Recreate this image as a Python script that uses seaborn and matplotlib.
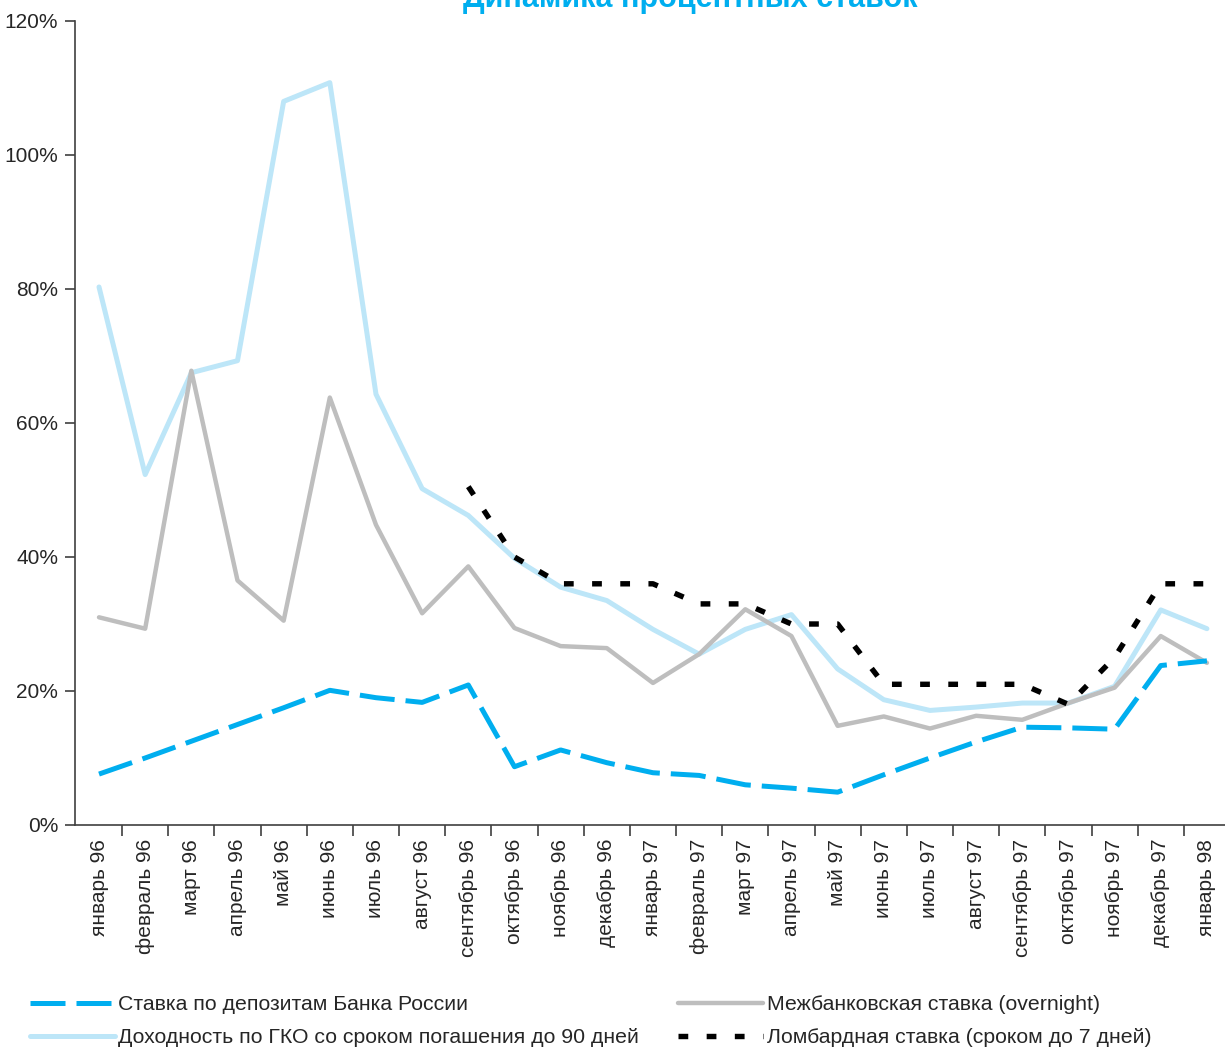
import numpy as np
import pandas as pd
import matplotlib
matplotlib.use('Agg')
import matplotlib.pyplot as plt
from matplotlib.lines import Line2D
import seaborn as sns

sns.set_style('white')
plt.rcParams['font.family'] = ['Liberation Sans', 'DejaVu Sans']

months = ['январь 96', 'февраль 96', 'март 96', 'апрель 96', 'май 96', 'июнь 96',
          'июль 96', 'август 96', 'сентябрь 96', 'октябрь 96', 'ноябрь 96', 'декабрь 96',
          'январь 97', 'февраль 97', 'март 97', 'апрель 97', 'май 97', 'июнь 97',
          'июль 97', 'август 97', 'сентябрь 97', 'октябрь 97', 'ноябрь 97', 'декабрь 97',
          'январь 98']

# ставки, %
deposit = [7.6, 10.0, 12.5, 15.0, 17.5, 20.1, 19.0, 18.3, 20.9, 8.7, 11.2, 9.3,
           7.8, 7.4, 6.0, 5.5, 4.9, 7.5, 10.0, 12.4, 14.6, 14.5, 14.3, 23.8, 24.5]
interbank = [31.0, 29.3, 67.8, 36.5, 30.5, 63.8, 44.8, 31.6, 38.6, 29.4, 26.7, 26.4,
             21.2, 25.5, 32.2, 28.2, 14.8, 16.2, 14.4, 16.3, 15.7, 18.2, 20.5, 28.2, 24.2]
gko = [80.3, 52.3, 67.5, 69.3, 108.0, 110.8, 64.3, 50.2, 46.2, 39.8, 35.5, 33.5,
       29.2, 25.5, 29.2, 31.4, 23.3, 18.7, 17.1, 17.6, 18.2, 18.2, 20.7, 32.1, 29.3]
lombard = [np.nan] * 8 + [50.5, 40.0, 36.0, 36.0, 36.0, 33.0, 33.0, 30.0, 30.0,
                          21.0, 21.0, 21.0, 21.0, 18.0, 25.0, 36.0, 36.0]

labels = ['Ставка по депозитам Банка России',
          'Доходность по ГКО со сроком погашения до 90 дней',
          'Межбанковская ставка (overnight)',
          'Ломбардная ставка (сроком до 7 дней)']

df = pd.DataFrame({'x': np.arange(len(months)), 'deposit': deposit,
                   'interbank': interbank, 'gko': gko, 'lombard': lombard})

fig = plt.figure(figsize=(12.25, 10.5), dpi=100)
ax = fig.add_axes([75 / 1225, 1 - 825 / 1050, 1155 / 1225, 804 / 1050])

blue = '#00AEEF'
light = '#BDE6F8'
grey = '#BEBEBE'
dep_ls = (0, (7, 2.2))
lom_ls = (0, (1.8, 3.4))

sns.lineplot(data=df, x='x', y='gko', ax=ax, color=light, linewidth=3.6)
sns.lineplot(data=df, x='x', y='interbank', ax=ax, color=grey, linewidth=3.2)
sns.lineplot(data=df, x='x', y='deposit', ax=ax, color=blue, linewidth=3.6,
             linestyle=dep_ls)
sns.lineplot(data=df.dropna(), x='x', y='lombard', ax=ax, color='black', linewidth=3.9,
             linestyle=lom_ls)

ax.set_xlim(-0.52, 24.5)
ax.set_ylim(0, 120)
ax.set_xlabel('')
ax.set_ylabel('')
ax.set_xticks(np.arange(len(months)))
ax.set_xticklabels(months, rotation=90, fontsize=15)
ax.set_xticks(np.arange(len(months)) + 0.5, minor=True)
ax.tick_params(axis='x', which='major', length=0, pad=10)
ax.tick_params(axis='x', which='minor', length=8, width=1.2, color='#404040', direction='out')
ax.set_yticks(np.arange(0, 121, 20))
ax.set_yticklabels([f'{v}%' for v in range(0, 121, 20)], fontsize=15)
ax.tick_params(axis='y', length=7, width=1.2, color='#404040', direction='out', pad=5)
ax.xaxis.set_ticks_position('bottom')
ax.yaxis.set_ticks_position('left')

for s in ['top', 'right']:
    ax.spines[s].set_visible(False)
for s in ['left', 'bottom']:
    ax.spines[s].set_color('#404040')
    ax.spines[s].set_linewidth(1.2)

fig.text(690 / 1225, 1 - 7 / 1050, 'Динамика процентных ставок', ha='center',
         va='baseline', fontsize=22, fontweight='bold', color=blue)

handles = [Line2D([], [], color=blue, linewidth=3.6, linestyle=dep_ls),
           Line2D([], [], color=light, linewidth=3.6),
           Line2D([], [], color=grey, linewidth=3.2),
           Line2D([], [], color='black', linewidth=3.9, linestyle=lom_ls)]
fig.legend(handles, labels, ncol=2, loc='upper left', bbox_to_anchor=(30 / 1225, 1 - 995 / 1050),
           frameon=False, fontsize=15.3, handlelength=4.0, handletextpad=0.15,
           columnspacing=1.85, labelspacing=0.68, borderaxespad=0, borderpad=0)

fig.savefig('out.png', dpi=100)
